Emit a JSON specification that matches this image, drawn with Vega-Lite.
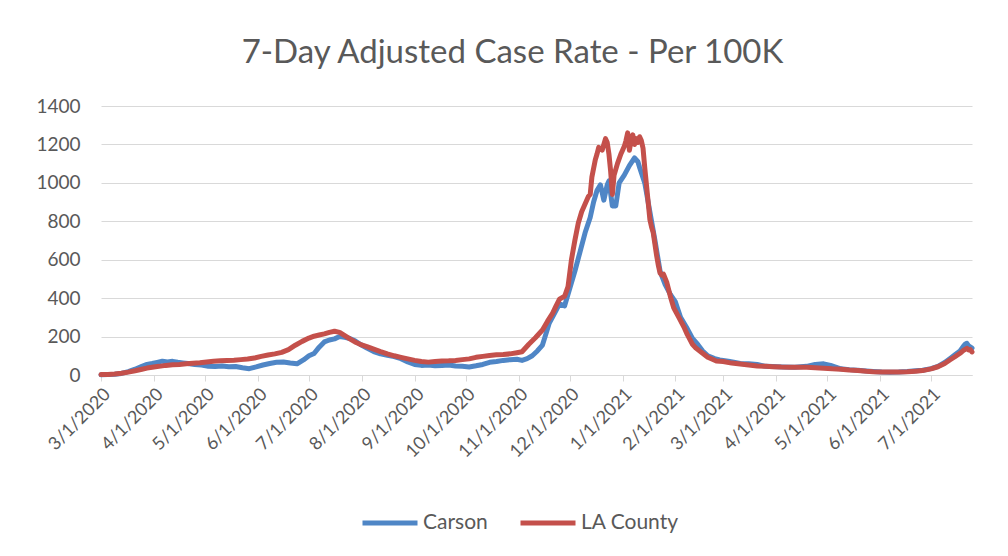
{
 "$schema": "https://vega.github.io/schema/vega-lite/v6.json",
 "width": 871, "height": 269,
 "autosize": {"type": "none"},
 "padding": {"left": 101, "top": 106, "right": 36, "bottom": 181},
 "background": "white",
 "title": {"text": "7-Day Adjusted Case Rate - Per 100K", "fontSize": 33, "font": "Lato", "fontWeight": "normal", "color": "#595959", "offset": 27, "dx": -24},
 "data": {"values": [
{"d":"2020-03-01","s":"Carson","v":1},{"d":"2020-03-05","s":"Carson","v":2},{"d":"2020-03-09","s":"Carson","v":4},{"d":"2020-03-13","s":"Carson","v":8},{"d":"2020-03-17","s":"Carson","v":18},{"d":"2020-03-21","s":"Carson","v":30},{"d":"2020-03-25","s":"Carson","v":45},{"d":"2020-03-28","s":"Carson","v":55},{"d":"2020-03-31","s":"Carson","v":60},{"d":"2020-04-03","s":"Carson","v":66},{"d":"2020-04-06","s":"Carson","v":72},{"d":"2020-04-09","s":"Carson","v":68},{"d":"2020-04-12","s":"Carson","v":71},{"d":"2020-04-15","s":"Carson","v":66},{"d":"2020-04-18","s":"Carson","v":63},{"d":"2020-04-21","s":"Carson","v":60},{"d":"2020-04-25","s":"Carson","v":55},{"d":"2020-04-29","s":"Carson","v":52},{"d":"2020-05-03","s":"Carson","v":46},{"d":"2020-05-07","s":"Carson","v":44},{"d":"2020-05-11","s":"Carson","v":47},{"d":"2020-05-15","s":"Carson","v":43},{"d":"2020-05-19","s":"Carson","v":44},{"d":"2020-05-23","s":"Carson","v":38},{"d":"2020-05-27","s":"Carson","v":33},{"d":"2020-05-31","s":"Carson","v":42},{"d":"2020-06-04","s":"Carson","v":52},{"d":"2020-06-08","s":"Carson","v":60},{"d":"2020-06-12","s":"Carson","v":66},{"d":"2020-06-16","s":"Carson","v":68},{"d":"2020-06-20","s":"Carson","v":62},{"d":"2020-06-24","s":"Carson","v":58},{"d":"2020-06-28","s":"Carson","v":80},{"d":"2020-07-01","s":"Carson","v":100},{"d":"2020-07-04","s":"Carson","v":112},{"d":"2020-07-07","s":"Carson","v":145},{"d":"2020-07-10","s":"Carson","v":172},{"d":"2020-07-13","s":"Carson","v":182},{"d":"2020-07-16","s":"Carson","v":188},{"d":"2020-07-19","s":"Carson","v":200},{"d":"2020-07-22","s":"Carson","v":196},{"d":"2020-07-25","s":"Carson","v":190},{"d":"2020-07-28","s":"Carson","v":178},{"d":"2020-07-31","s":"Carson","v":160},{"d":"2020-08-04","s":"Carson","v":140},{"d":"2020-08-08","s":"Carson","v":122},{"d":"2020-08-12","s":"Carson","v":110},{"d":"2020-08-16","s":"Carson","v":103},{"d":"2020-08-20","s":"Carson","v":96},{"d":"2020-08-24","s":"Carson","v":85},{"d":"2020-08-28","s":"Carson","v":68},{"d":"2020-09-01","s":"Carson","v":55},{"d":"2020-09-05","s":"Carson","v":50},{"d":"2020-09-09","s":"Carson","v":52},{"d":"2020-09-13","s":"Carson","v":48},{"d":"2020-09-17","s":"Carson","v":50},{"d":"2020-09-21","s":"Carson","v":52},{"d":"2020-09-25","s":"Carson","v":47},{"d":"2020-09-29","s":"Carson","v":45},{"d":"2020-10-03","s":"Carson","v":42},{"d":"2020-10-07","s":"Carson","v":48},{"d":"2020-10-11","s":"Carson","v":55},{"d":"2020-10-15","s":"Carson","v":66},{"d":"2020-10-19","s":"Carson","v":70},{"d":"2020-10-23","s":"Carson","v":76},{"d":"2020-10-27","s":"Carson","v":80},{"d":"2020-10-31","s":"Carson","v":82},{"d":"2020-11-03","s":"Carson","v":76},{"d":"2020-11-06","s":"Carson","v":85},{"d":"2020-11-09","s":"Carson","v":100},{"d":"2020-11-12","s":"Carson","v":125},{"d":"2020-11-15","s":"Carson","v":156},{"d":"2020-11-19","s":"Carson","v":270},{"d":"2020-11-22","s":"Carson","v":320},{"d":"2020-11-25","s":"Carson","v":370},{"d":"2020-11-28","s":"Carson","v":360},{"d":"2020-12-01","s":"Carson","v":450},{"d":"2020-12-04","s":"Carson","v":540},{"d":"2020-12-07","s":"Carson","v":640},{"d":"2020-12-10","s":"Carson","v":740},{"d":"2020-12-13","s":"Carson","v":820},{"d":"2020-12-15","s":"Carson","v":900},{"d":"2020-12-17","s":"Carson","v":960},{"d":"2020-12-19","s":"Carson","v":990},{"d":"2020-12-21","s":"Carson","v":910},{"d":"2020-12-23","s":"Carson","v":990},{"d":"2020-12-24","s":"Carson","v":1010},{"d":"2020-12-26","s":"Carson","v":880},{"d":"2020-12-28","s":"Carson","v":880},{"d":"2020-12-30","s":"Carson","v":1000},{"d":"2021-01-02","s":"Carson","v":1040},{"d":"2021-01-05","s":"Carson","v":1090},{"d":"2021-01-08","s":"Carson","v":1130},{"d":"2021-01-10","s":"Carson","v":1110},{"d":"2021-01-11","s":"Carson","v":1080},{"d":"2021-01-14","s":"Carson","v":1000},{"d":"2021-01-17","s":"Carson","v":850},{"d":"2021-01-20","s":"Carson","v":700},{"d":"2021-01-23","s":"Carson","v":540},{"d":"2021-01-26","s":"Carson","v":470},{"d":"2021-01-29","s":"Carson","v":420},{"d":"2021-02-01","s":"Carson","v":380},{"d":"2021-02-04","s":"Carson","v":300},{"d":"2021-02-08","s":"Carson","v":240},{"d":"2021-02-11","s":"Carson","v":190},{"d":"2021-02-14","s":"Carson","v":160},{"d":"2021-02-17","s":"Carson","v":125},{"d":"2021-02-20","s":"Carson","v":100},{"d":"2021-02-24","s":"Carson","v":85},{"d":"2021-02-27","s":"Carson","v":78},{"d":"2021-03-04","s":"Carson","v":72},{"d":"2021-03-08","s":"Carson","v":65},{"d":"2021-03-11","s":"Carson","v":60},{"d":"2021-03-16","s":"Carson","v":58},{"d":"2021-03-21","s":"Carson","v":55},{"d":"2021-03-26","s":"Carson","v":45},{"d":"2021-03-30","s":"Carson","v":44},{"d":"2021-04-05","s":"Carson","v":42},{"d":"2021-04-12","s":"Carson","v":40},{"d":"2021-04-19","s":"Carson","v":45},{"d":"2021-04-24","s":"Carson","v":55},{"d":"2021-04-29","s":"Carson","v":58},{"d":"2021-05-03","s":"Carson","v":50},{"d":"2021-05-09","s":"Carson","v":32},{"d":"2021-05-14","s":"Carson","v":28},{"d":"2021-05-19","s":"Carson","v":25},{"d":"2021-05-24","s":"Carson","v":21},{"d":"2021-05-28","s":"Carson","v":18},{"d":"2021-06-02","s":"Carson","v":15},{"d":"2021-06-07","s":"Carson","v":14},{"d":"2021-06-12","s":"Carson","v":15},{"d":"2021-06-17","s":"Carson","v":18},{"d":"2021-06-22","s":"Carson","v":22},{"d":"2021-06-26","s":"Carson","v":25},{"d":"2021-07-01","s":"Carson","v":33},{"d":"2021-07-05","s":"Carson","v":45},{"d":"2021-07-09","s":"Carson","v":65},{"d":"2021-07-12","s":"Carson","v":85},{"d":"2021-07-15","s":"Carson","v":105},{"d":"2021-07-18","s":"Carson","v":125},{"d":"2021-07-20","s":"Carson","v":150},{"d":"2021-07-21","s":"Carson","v":160},{"d":"2021-07-22","s":"Carson","v":165},{"d":"2021-07-23","s":"Carson","v":152},{"d":"2021-07-25","s":"Carson","v":140},
{"d":"2020-03-01","s":"LA County","v":2},{"d":"2020-03-05","s":"LA County","v":3},{"d":"2020-03-09","s":"LA County","v":5},{"d":"2020-03-13","s":"LA County","v":9},{"d":"2020-03-17","s":"LA County","v":15},{"d":"2020-03-21","s":"LA County","v":22},{"d":"2020-03-25","s":"LA County","v":30},{"d":"2020-03-28","s":"LA County","v":36},{"d":"2020-04-01","s":"LA County","v":42},{"d":"2020-04-04","s":"LA County","v":45},{"d":"2020-04-08","s":"LA County","v":50},{"d":"2020-04-12","s":"LA County","v":53},{"d":"2020-04-16","s":"LA County","v":55},{"d":"2020-04-20","s":"LA County","v":58},{"d":"2020-04-24","s":"LA County","v":61},{"d":"2020-04-28","s":"LA County","v":64},{"d":"2020-05-02","s":"LA County","v":68},{"d":"2020-05-06","s":"LA County","v":72},{"d":"2020-05-10","s":"LA County","v":74},{"d":"2020-05-14","s":"LA County","v":76},{"d":"2020-05-18","s":"LA County","v":77},{"d":"2020-05-22","s":"LA County","v":80},{"d":"2020-05-26","s":"LA County","v":83},{"d":"2020-05-30","s":"LA County","v":88},{"d":"2020-06-03","s":"LA County","v":97},{"d":"2020-06-07","s":"LA County","v":104},{"d":"2020-06-11","s":"LA County","v":110},{"d":"2020-06-15","s":"LA County","v":118},{"d":"2020-06-19","s":"LA County","v":132},{"d":"2020-06-23","s":"LA County","v":155},{"d":"2020-06-27","s":"LA County","v":175},{"d":"2020-07-01","s":"LA County","v":192},{"d":"2020-07-04","s":"LA County","v":202},{"d":"2020-07-07","s":"LA County","v":208},{"d":"2020-07-10","s":"LA County","v":214},{"d":"2020-07-13","s":"LA County","v":222},{"d":"2020-07-16","s":"LA County","v":228},{"d":"2020-07-19","s":"LA County","v":222},{"d":"2020-07-22","s":"LA County","v":205},{"d":"2020-07-25","s":"LA County","v":188},{"d":"2020-07-28","s":"LA County","v":172},{"d":"2020-07-31","s":"LA County","v":160},{"d":"2020-08-04","s":"LA County","v":148},{"d":"2020-08-08","s":"LA County","v":135},{"d":"2020-08-12","s":"LA County","v":122},{"d":"2020-08-16","s":"LA County","v":110},{"d":"2020-08-20","s":"LA County","v":100},{"d":"2020-08-24","s":"LA County","v":92},{"d":"2020-08-28","s":"LA County","v":84},{"d":"2020-09-01","s":"LA County","v":76},{"d":"2020-09-05","s":"LA County","v":70},{"d":"2020-09-09","s":"LA County","v":67},{"d":"2020-09-13","s":"LA County","v":70},{"d":"2020-09-17","s":"LA County","v":73},{"d":"2020-09-21","s":"LA County","v":74},{"d":"2020-09-25","s":"LA County","v":76},{"d":"2020-09-29","s":"LA County","v":80},{"d":"2020-10-03","s":"LA County","v":84},{"d":"2020-10-07","s":"LA County","v":92},{"d":"2020-10-11","s":"LA County","v":97},{"d":"2020-10-15","s":"LA County","v":102},{"d":"2020-10-19","s":"LA County","v":105},{"d":"2020-10-23","s":"LA County","v":107},{"d":"2020-10-27","s":"LA County","v":110},{"d":"2020-10-31","s":"LA County","v":116},{"d":"2020-11-03","s":"LA County","v":121},{"d":"2020-11-07","s":"LA County","v":160},{"d":"2020-11-11","s":"LA County","v":195},{"d":"2020-11-15","s":"LA County","v":234},{"d":"2020-11-18","s":"LA County","v":280},{"d":"2020-11-21","s":"LA County","v":322},{"d":"2020-11-23","s":"LA County","v":360},{"d":"2020-11-25","s":"LA County","v":395},{"d":"2020-11-28","s":"LA County","v":410},{"d":"2020-11-30","s":"LA County","v":460},{"d":"2020-12-02","s":"LA County","v":600},{"d":"2020-12-04","s":"LA County","v":700},{"d":"2020-12-06","s":"LA County","v":790},{"d":"2020-12-08","s":"LA County","v":850},{"d":"2020-12-10","s":"LA County","v":890},{"d":"2020-12-12","s":"LA County","v":930},{"d":"2020-12-13","s":"LA County","v":940},{"d":"2020-12-14","s":"LA County","v":1030},{"d":"2020-12-16","s":"LA County","v":1120},{"d":"2020-12-17","s":"LA County","v":1150},{"d":"2020-12-18","s":"LA County","v":1185},{"d":"2020-12-20","s":"LA County","v":1170},{"d":"2020-12-22","s":"LA County","v":1230},{"d":"2020-12-23","s":"LA County","v":1210},{"d":"2020-12-24","s":"LA County","v":1150},{"d":"2020-12-25","s":"LA County","v":1060},{"d":"2020-12-26","s":"LA County","v":940},{"d":"2020-12-27","s":"LA County","v":1040},{"d":"2020-12-29","s":"LA County","v":1100},{"d":"2020-12-31","s":"LA County","v":1150},{"d":"2021-01-01","s":"LA County","v":1170},{"d":"2021-01-02","s":"LA County","v":1190},{"d":"2021-01-03","s":"LA County","v":1220},{"d":"2021-01-04","s":"LA County","v":1260},{"d":"2021-01-05","s":"LA County","v":1170},{"d":"2021-01-06","s":"LA County","v":1220},{"d":"2021-01-07","s":"LA County","v":1250},{"d":"2021-01-08","s":"LA County","v":1200},{"d":"2021-01-09","s":"LA County","v":1230},{"d":"2021-01-10","s":"LA County","v":1210},{"d":"2021-01-11","s":"LA County","v":1240},{"d":"2021-01-12","s":"LA County","v":1220},{"d":"2021-01-13","s":"LA County","v":1180},{"d":"2021-01-14","s":"LA County","v":1080},{"d":"2021-01-15","s":"LA County","v":990},{"d":"2021-01-16","s":"LA County","v":900},{"d":"2021-01-17","s":"LA County","v":810},{"d":"2021-01-18","s":"LA County","v":770},{"d":"2021-01-19","s":"LA County","v":740},{"d":"2021-01-20","s":"LA County","v":680},{"d":"2021-01-21","s":"LA County","v":620},{"d":"2021-01-22","s":"LA County","v":570},{"d":"2021-01-23","s":"LA County","v":530},{"d":"2021-01-24","s":"LA County","v":520},{"d":"2021-01-25","s":"LA County","v":525},{"d":"2021-01-27","s":"LA County","v":480},{"d":"2021-01-29","s":"LA County","v":410},{"d":"2021-01-31","s":"LA County","v":350},{"d":"2021-02-03","s":"LA County","v":300},{"d":"2021-02-06","s":"LA County","v":250},{"d":"2021-02-08","s":"LA County","v":210},{"d":"2021-02-11","s":"LA County","v":160},{"d":"2021-02-13","s":"LA County","v":140},{"d":"2021-02-16","s":"LA County","v":120},{"d":"2021-02-20","s":"LA County","v":92},{"d":"2021-02-25","s":"LA County","v":73},{"d":"2021-03-01","s":"LA County","v":70},{"d":"2021-03-06","s":"LA County","v":62},{"d":"2021-03-11","s":"LA County","v":57},{"d":"2021-03-16","s":"LA County","v":52},{"d":"2021-03-21","s":"LA County","v":47},{"d":"2021-03-26","s":"LA County","v":45},{"d":"2021-03-30","s":"LA County","v":43},{"d":"2021-04-04","s":"LA County","v":41},{"d":"2021-04-09","s":"LA County","v":40},{"d":"2021-04-14","s":"LA County","v":40},{"d":"2021-04-19","s":"LA County","v":40},{"d":"2021-04-24","s":"LA County","v":38},{"d":"2021-04-29","s":"LA County","v":35},{"d":"2021-05-04","s":"LA County","v":32},{"d":"2021-05-09","s":"LA County","v":30},{"d":"2021-05-14","s":"LA County","v":26},{"d":"2021-05-19","s":"LA County","v":23},{"d":"2021-05-24","s":"LA County","v":19},{"d":"2021-05-28","s":"LA County","v":17},{"d":"2021-06-02","s":"LA County","v":16},{"d":"2021-06-07","s":"LA County","v":16},{"d":"2021-06-12","s":"LA County","v":16},{"d":"2021-06-17","s":"LA County","v":17},{"d":"2021-06-22","s":"LA County","v":20},{"d":"2021-06-26","s":"LA County","v":23},{"d":"2021-07-01","s":"LA County","v":32},{"d":"2021-07-05","s":"LA County","v":43},{"d":"2021-07-09","s":"LA County","v":60},{"d":"2021-07-12","s":"LA County","v":78},{"d":"2021-07-15","s":"LA County","v":95},{"d":"2021-07-18","s":"LA County","v":113},{"d":"2021-07-20","s":"LA County","v":128},{"d":"2021-07-22","s":"LA County","v":139},{"d":"2021-07-23","s":"LA County","v":130},{"d":"2021-07-24","s":"LA County","v":132},{"d":"2021-07-25","s":"LA County","v":120}
 ]},
 "mark": {"type": "line", "strokeWidth": 5, "strokeJoin": "round", "strokeCap": "round"},
 "encoding": {
  "x": {"field": "d", "type": "temporal",
        "scale": {"type": "utc", "domain": [{"year": 2020, "month": 3, "date": 1, "utc": true}, {"year": 2021, "month": 7, "date": 25, "utc": true}]},
        "axis": {"title": null, "format": "%-m/%-d/%Y", "tickCount": {"interval": "month", "step": 1}, "labelAngle": -45, "labelFontSize": 18, "labelFont": "Lato", "labelColor": "#595959", "labelOverlap": false, "labelFlush": false, "labelPadding": 4, "grid": false, "domainColor": "#d9d9d9", "tickColor": "#d9d9d9", "tickSize": 6}},
  "y": {"field": "v", "type": "quantitative",
        "scale": {"domain": [0, 1400], "nice": false},
        "axis": {"title": null, "format": "d", "values": [0, 200, 400, 600, 800, 1000, 1200, 1400], "domain": false, "ticks": false, "grid": true, "gridColor": "#d9d9d9", "labelFontSize": 19, "labelFont": "Lato", "labelColor": "#595959", "labelPadding": 21}},
  "color": {"field": "s", "type": "nominal",
        "scale": {"domain": ["Carson", "LA County"], "range": ["#4f86c6", "#c4504b"]},
        "legend": {"title": null, "orient": "none", "legendX": 259, "legendY": 387, "direction": "horizontal", "symbolType": "stroke", "symbolSize": 3025, "symbolStrokeWidth": 5, "labelFontSize": 21, "labelFont": "Lato", "labelColor": "#595959", "columnPadding": 22, "labelOffset": 3}}
 },
 "config": {"view": {"stroke": null}}
}
